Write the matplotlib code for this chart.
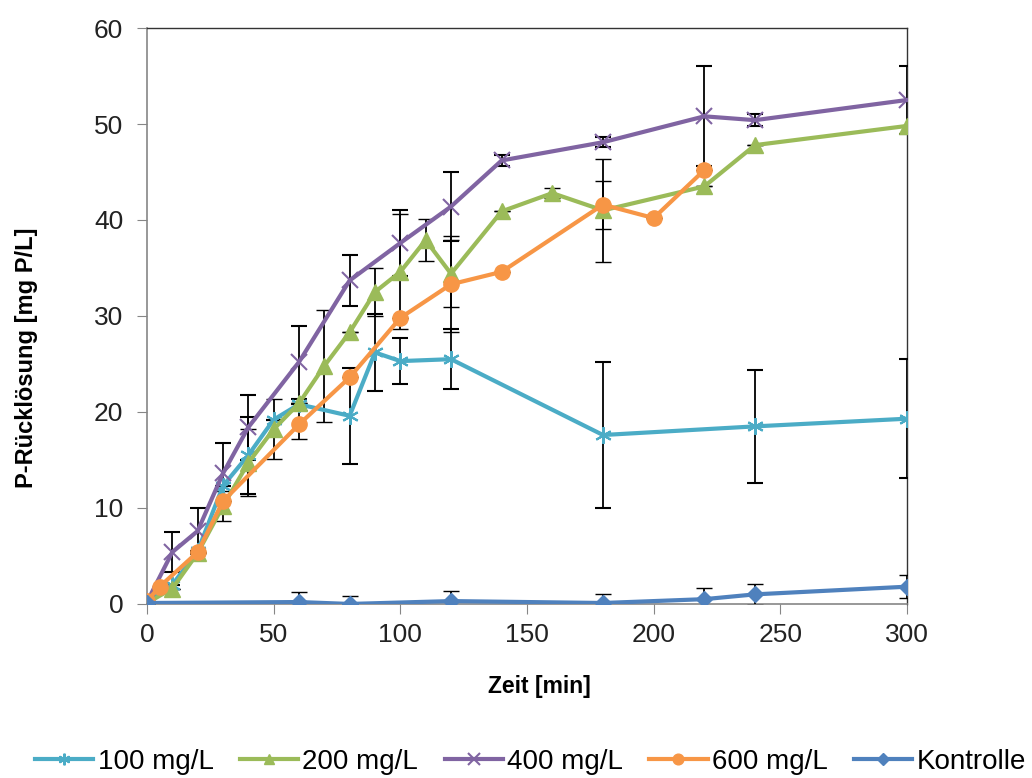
import matplotlib.pyplot as plt

plt.rcParams['font.family'] = ['Liberation Sans', 'DejaVu Sans']

# 100 mg/L
t_100 = [0, 10, 20, 30, 40, 50, 60, 80, 90, 100, 120, 180, 240, 300]
p_100 = [0.1, 2.0, 5.5, 12.3, 15.5, 19.2, 20.8, 19.6, 26.2, 25.3, 25.5, 17.6, 18.5, 19.3]
e_100 = [0, 0, 0, 0, 4.0, 0, 0, 5.0, 4.0, 2.4, 3.1, 7.6, 5.9, 6.2]

# 200 mg/L
t_200 = [0, 10, 20, 30, 40, 50, 60, 70, 80, 90, 100, 110, 120, 140, 160, 180, 220, 240, 300]
p_200 = [0.1, 1.6, 5.3, 10.2, 14.7, 18.2, 20.9, 24.8, 28.3, 32.5, 34.6, 37.9, 34.4,
         40.9, 42.8, 41.0, 43.5, 47.8, 49.8]
e_200 = [0, 0, 0, 1.6, 3.5, 3.1, 0, 5.8, 0, 2.5, 6.0, 2.2, 3.5, 0, 0.5, 5.4, 0, 0, 0]

# 400 mg/L
t_400 = [0, 10, 20, 30, 40, 60, 80, 100, 120, 140, 180, 220, 240, 300]
p_400 = [0.2, 5.4, 7.6, 13.6, 18.4, 25.2, 33.7, 37.6, 41.4, 46.2, 48.1, 50.8, 50.4, 52.5]
e_400 = [0, 2.1, 2.4, 3.2, 3.4, 3.8, 2.7, 3.4, 3.6, 0.6, 0.5, 5.2, 0.6, 3.5]

# 600 mg/L
t_600 = [0, 5, 20, 30, 60, 80, 100, 120, 140, 180, 200, 220]
p_600 = [0.3, 1.8, 5.4, 10.7, 18.7, 23.6, 29.8, 33.3, 34.6, 41.6, 40.2, 45.2]
e_600 = [0, 0, 0, 0, 1.5, 0, 0, 5.0, 0, 2.5, 0, 0]

# Kontrolle
t_k = [0, 60, 80, 120, 180, 220, 240, 300]
p_k = [0.1, 0.2, 0.0, 0.3, 0.1, 0.5, 1.0, 1.8]
e_k = [0, 1.0, 0.8, 1.0, 0.9, 1.2, 1.1, 1.2]

series = [
    ('100 mg/L', t_100, p_100, e_100, '#4BACC6', (6, 2, 0), 12),
    ('200 mg/L', t_200, p_200, e_200, '#9BBB59', '^', 11),
    ('400 mg/L', t_400, p_400, e_400, '#8064A2', 'x', 12),
    ('600 mg/L', t_600, p_600, e_600, '#F79646', 'o', 11),
    ('Kontrolle', t_k, p_k, e_k, '#4F81BD', 'D', 8.5),
]

fig = plt.figure(figsize=(10.32, 7.78), dpi=100)
ax = fig.add_axes([0.1424, 0.2237, 0.7365, 0.7403])

handles = []
for name, t, p, e, col, mk, ms in series:
    c = ax.errorbar(t, p, yerr=e, color=col, ecolor='black', elinewidth=1.3,
                    capsize=6, capthick=1.3, lw=3, marker=mk, ms=ms,
                    mew=1.5 if mk in ('x', (6, 2, 0)) else 1, label=name, zorder=3)
    handles.append(c[0])

ax.set_xlim(0, 300)
ax.set_ylim(0, 60)
ax.set_xticks(range(0, 301, 50))
ax.set_yticks(range(0, 61, 10))
ax.tick_params(direction='out', length=7, labelsize=19, color='#868686',
               labelcolor='#222222')
ax.tick_params(axis='x', pad=7)
ax.tick_params(axis='y', pad=10)
for s in ('left', 'bottom'):
    ax.spines[s].set_color('#868686')
    ax.spines[s].set_linewidth(1.2)
for s in ('top', 'right'):
    ax.spines[s].set_color('#333333')
    ax.spines[s].set_linewidth(1.0)

ax.set_xlabel('Zeit [min]', fontsize=16.5, fontweight='bold')
ax.xaxis.set_label_coords(0.516, -0.123)
ax.set_ylabel('P-Rücklösung [mg P/L]', fontsize=17, fontweight='bold')
ax.yaxis.set_label_coords(-0.143, 0.427)

fig.legend(handles, [s[0] for s in series], loc='center',
           bbox_to_anchor=(0.514, 0.021), ncol=5, frameon=False, fontsize=20,
           handlelength=2.1, handletextpad=0.15, columnspacing=0.95,
           markerscale=0.7, borderaxespad=0, borderpad=0)

fig.savefig('out.png', dpi=100)
